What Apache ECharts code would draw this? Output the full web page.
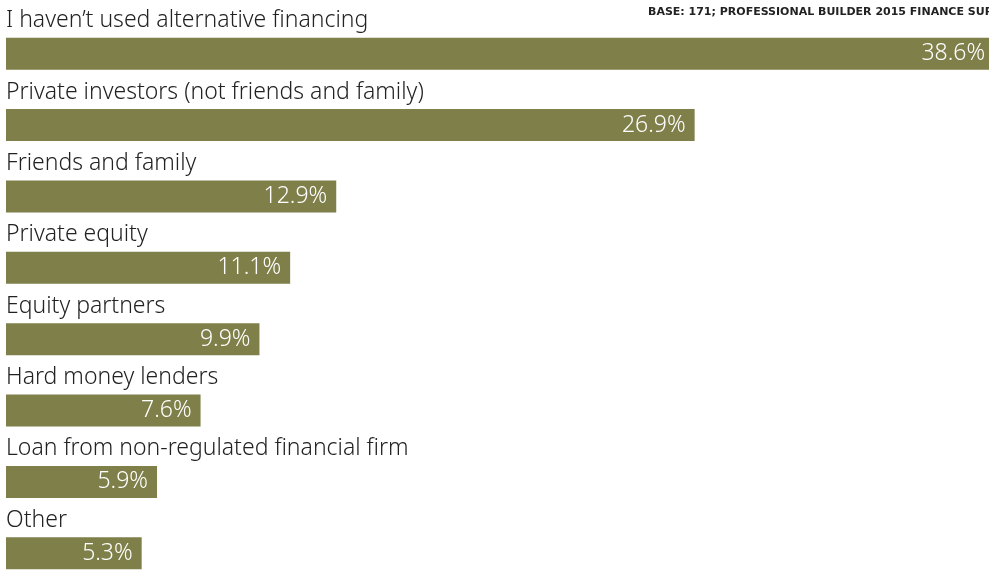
<!DOCTYPE html>
<html>
<head>
<meta charset="utf-8">
<title>Alternative financing sources</title>
<script src="https://cdn.jsdelivr.net/npm/echarts@6/dist/echarts.min.js"></script>
<style>
  html, body { margin: 0; padding: 0; background: #ffffff; }
  #chart { width: 989px; height: 570px; }
</style>
</head>
<body>
<div id="chart"></div>
<script>
// Sources of alternative financing used by builders (share of respondents, %)
const categories = [
  'I haven\u2019t used alternative financing',
  'Private investors (not friends and family)',
  'Friends and family',
  'Private equity',
  'Equity partners',
  'Hard money lenders',
  'Loan from non-regulated financial firm',
  'Other'
];
const shares = [38.6, 26.9, 12.9, 11.1, 9.9, 7.6, 5.9, 5.3];
const sourceNote = 'BASE: 171; PROFESSIONAL BUILDER 2015 FINANCE SURVEY';

const FONT = '"Noto Sans", Lato, sans-serif';
const chart = echarts.init(document.getElementById('chart'), null, { renderer: 'canvas' });

chart.setOption({
  animation: false,
  backgroundColor: '#ffffff',
  title: {
    text: sourceNote,
    left: 643,
    top: 2,
    textStyle: {
      fontFamily: '"DejaVu Sans", sans-serif',
      fontSize: 11,
      fontWeight: 'bold',
      color: '#222222'
    }
  },
  grid: {
    left: 6,
    top: 18,
    width: 1024,
    height: 571,
    outerBoundsMode: 'none',
    containLabel: false
  },
  xAxis: {
    type: 'value',
    min: 0,
    max: 40,
    show: false
  },
  yAxis: {
    type: 'category',
    data: categories,
    inverse: true,
    axisLine: { show: false },
    axisTick: { show: false },
    splitLine: { show: false },
    axisLabel: {
      inside: true,
      margin: 0,
      align: 'left',
      verticalAlign: 'bottom',
      fontFamily: FONT,
      fontSize: 23,
      fontWeight: 300,
      lineHeight: 26,
      padding: [0, 0, 20, 0],
      color: '#222222'
    },
    z: 5
  },
  series: [{
    type: 'bar',
    data: shares,
    barWidth: 32,
    itemStyle: { color: '#7F7F4A' },
    label: {
      show: true,
      position: 'insideRight',
      distance: 9,
      color: '#ffffff',
      fontFamily: FONT,
      fontSize: 23,
      fontWeight: 300,
      formatter: p => p.value.toFixed(1) + '%'
    }
  }]
});
</script>
</body>
</html>
